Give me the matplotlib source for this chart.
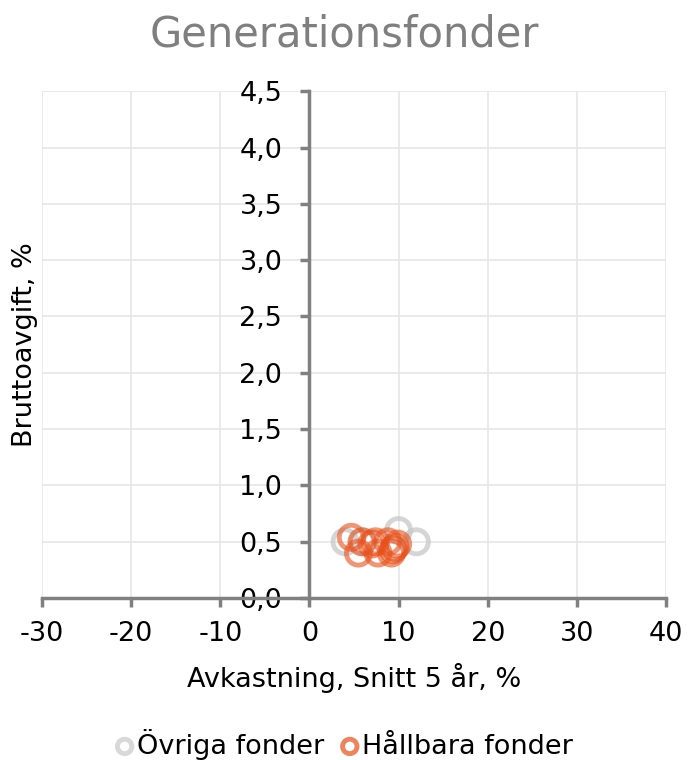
import matplotlib
matplotlib.use("Agg")
import matplotlib.pyplot as plt
from matplotlib.ticker import FuncFormatter

# Övriga fonder (grey) – avkastning vs bruttoavgift
ovriga_x = [4.0, 10.0, 12.0, 6.0]
ovriga_y = [0.50, 0.60, 0.50, 0.50]

# Hållbara fonder (orange)
hallbara_x = [4.7, 5.5, 5.9, 7.4, 7.7, 8.8, 9.6, 9.2, 9.9, 7.0, 9.4]
hallbara_y = [0.54, 0.40, 0.50, 0.50, 0.40, 0.50, 0.45, 0.40, 0.48, 0.48, 0.43]

x_ticks = [-30, -20, -10, 0, 10, 20, 30, 40]
y_ticks = [0.0, 0.5, 1.0, 1.5, 2.0, 2.5, 3.0, 3.5, 4.0, 4.5]

plt.rcParams['font.family'] = ['DejaVu Sans']
plt.rcParams['axes.unicode_minus'] = False

fig = plt.figure(figsize=(6.88, 7.6), dpi=100)
ax = fig.add_axes([0.061, 0.213, 0.907, 0.667])

axis_col = '#808080'
grid_col = '#E6E6E6'

ax.set_xlim(-30, 40)
ax.set_ylim(0, 4.5)
ax.set_xticks(x_ticks)
ax.set_yticks(y_ticks)
ax.yaxis.set_major_formatter(FuncFormatter(lambda v, p: f"{v:.1f}".replace('.', ',')))
ax.grid(True, color=grid_col, linewidth=1.2, zorder=0)
ax.set_axisbelow(True)

for s in ['top', 'right']:
    ax.spines[s].set_visible(False)
ax.spines['left'].set_position(('data', 0))
ax.spines['bottom'].set_position(('data', 0))
for s in ['left', 'bottom']:
    ax.spines[s].set_color(axis_col)
    ax.spines[s].set_linewidth(2.5)
ax.tick_params(axis='both', colors=axis_col, width=2.5, length=6.5, direction='out',
               labelcolor='black', labelsize=19.5)
ax.tick_params(axis='y', pad=13)
ax.tick_params(axis='x', pad=10)

ax.scatter(ovriga_x, ovriga_y, s=300, facecolors='none', edgecolors='#C8C8C8',
           linewidths=3.5, alpha=0.75, zorder=3, label='Övriga fonder')
ax.scatter(hallbara_x, hallbara_y, s=300, facecolors='none', edgecolors='#E8501A',
           linewidths=3.5, alpha=0.6, zorder=4, label='Hållbara fonder')

ax.set_xlabel('Avkastning, Snitt 5 år, %', fontsize=19.5)
ax.set_ylabel('Bruttoavgift, %', fontsize=19.5)
ax.yaxis.set_label_coords(-0.006, 0.5)
ax.xaxis.set_label_coords(0.5, -0.128)

fig.text(0.5, 0.955, 'Generationsfonder', ha='center', va='center',
         fontsize=30, color='#7F7F7F')

leg = fig.legend(loc='center', bbox_to_anchor=(0.5, 0.021), ncol=2, frameon=False,
                 fontsize=19.5, handlelength=0.7, handletextpad=0.1,
                 columnspacing=0.6, markerscale=0.6, borderpad=0.2)
for h in leg.legend_handles:
    h.set_alpha(0.7)

fig.savefig('out.png', dpi=100)
